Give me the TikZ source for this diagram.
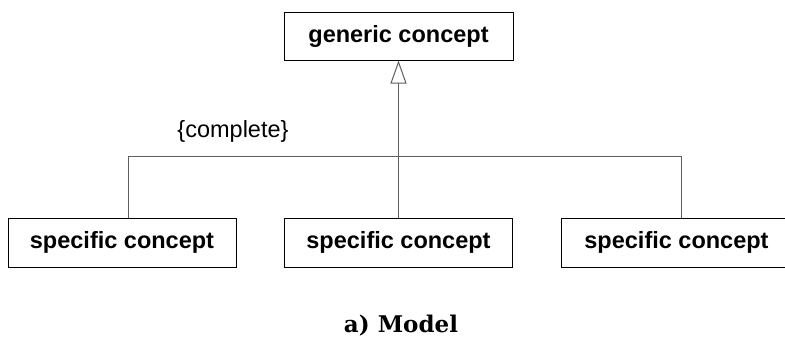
\documentclass[tikz,border=0pt]{standalone}
\usepackage{fontspec}
\setmainfont{Liberation Sans}
\newfontfamily\capfont{DejaVu Serif}[BoldFont={DejaVu Serif Bold}]
\usetikzlibrary{arrows.meta}
\definecolor{linegray}{RGB}{95,95,95}
\tikzset{
  conceptbox/.style={draw=black, line width=1pt, fill=white, minimum height=49pt,
    inner sep=0pt, font=\fontsize{23.5}{26}\selectfont\bfseries, text=black},
  conn/.style={draw=linegray, line width=1pt},
}
\begin{document}
\begin{tikzpicture}[x=1pt,y=-1pt]
\useasboundingbox (0,0) rectangle (785,338);
\node[conceptbox, minimum width=229pt, minimum height=48pt] (gen) at (398.5,36) {generic concept};
\node[conceptbox, minimum width=228pt] (left) at (122,242.5) {specific concept};
\node[conceptbox, minimum width=228pt] (mid) at (398.5,242.5) {specific concept};
\node[conceptbox, minimum width=231pt] (right) at (676.5,242.5) {specific concept};
\coordinate (jl) at (128,156.5);
\coordinate (jr) at (681,156.5);
\draw[conn] (left.north -| jl) -- (jl) -- (jr) -- (right.north -| jr);
\draw[conn, -{Triangle[open, length=23pt, width=16pt, fill=white]}] (mid.north) -- (gen.south);
\node[font=\fontsize{23.5}{26}\selectfont, anchor=base, inner sep=0pt] (compl) at (233,137) {\{complete\}};
\node[font=\capfont\fontsize{23}{26}\selectfont\bfseries, anchor=base, inner sep=0pt] (cap) at (401,332) {a) Model};
\end{tikzpicture}
\end{document}
